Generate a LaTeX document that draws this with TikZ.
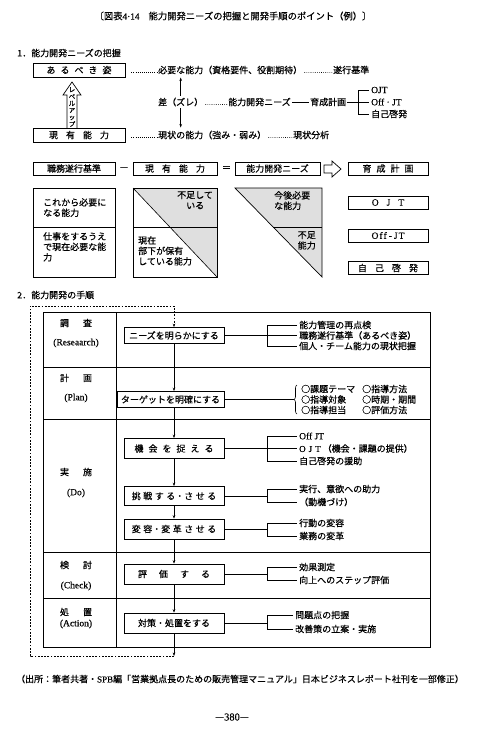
\documentclass[tikz,border=0pt]{standalone}
\usepackage{fontspec}
\setmainfont{Noto Sans CJK JP}[FakeBold=0.35]
\newfontfamily\lat{Liberation Serif}[FakeBold=0.3]
\usetikzlibrary{arrows.meta,decorations.pathreplacing}
\newcommand\gapa{\hspace{5pt}}
\newcommand\gapb{\hspace{8pt}}
\newcommand\gapc{\hspace{12pt}}
\newcommand\gapd{\hspace{2.5pt}}
\begin{document}
\begin{tikzpicture}[x=1pt,y=-1pt,
  txt/.style={font=\fontsize{9}{10.5}\selectfont, inner sep=0pt},
  ltxt/.style={font=\lat\fontsize{9.5}{10.5}\selectfont, inner sep=0pt},
  box/.style={draw, line width=0.7pt, inner sep=0pt, font=\fontsize{9}{10.5}\selectfont},
  ln/.style={line width=0.6pt},
  dotln/.style={line width=0.8pt, dash pattern=on 0.6pt off 1.5pt},
  arr/.style={line width=0.6pt, -{Stealth[length=3.5pt,width=2.6pt]}},
  dashln/.style={line width=0.7pt, dash pattern=on 1.8pt off 1.4pt},
  stip/.style={fill=gray!25},
]
\useasboundingbox (0,0) rectangle (482,732);

% ---------- title
\node[txt, font=\fontsize{9.3}{10.5}\selectfont] (title) at (233,16) {〔図表{\lat 4·14}\hspace{9pt}能力開発ニーズの把握と開発手順のポイント（例）〕};

% ---------- section 1
\node[txt, anchor=west] (s1) at (17,53) {1．能力開発ニーズの把握};
\node[box, minimum width=92pt, minimum height=14pt] (ideal) at (79,70) {あ\gapa る\gapa べ\gapa き\gapa 姿};
\node[box, minimum width=92pt, minimum height=14pt] (cur) at (79,135) {現\gapb 有\gapb 能\gapb 力};

\node[txt, anchor=west] (need) at (158,70) {必要な能力（資格要件、役割期待）};
\node[txt, anchor=west] (kijun) at (333,70) {遂行基準};
\coordinate (d1) at ([xshift=6pt]ideal.east);
\draw[dotln] ([yshift=1pt]d1 |- need.base west) -- ([xshift=-1pt,yshift=1pt]need.base west);
\draw[dotln] ([xshift=2pt,yshift=1pt]need.base east) -- ([xshift=-1pt,yshift=1pt]kijun.base west);

\node[txt, anchor=west] (gap) at (158,102) {差（ズレ）};
\node[txt, anchor=west] (needs) at (228,102) {能力開発ニーズ};
\node[txt, anchor=west] (plan) at (310,102) {育成計画};
\draw[dotln] ([xshift=2pt,yshift=1pt]gap.base east) -- ([xshift=-1pt,yshift=1pt]needs.base west);
\draw[ln] ([xshift=1pt]needs.east) -- ([xshift=-1pt]plan.west);
\coordinate (bk) at (358,0);
\node[ltxt, anchor=west] (m1) at (371,90) {OJT};
\node[ltxt, anchor=west] (m2) at (371,102) {Off · JT};
\node[txt, anchor=west] (m3) at (371,114) {自己啓発};
\draw[ln] ([xshift=1pt]plan.east) -- ([xshift=-2pt]m2.west);
\draw[ln] ([xshift=-2pt]m1.west) -- (m1.west -| bk) -- (m3.west -| bk) -- ([xshift=-2pt]m3.west);

\node[txt, anchor=west] (genjo) at (158,135) {現状の能力（強み・弱み）};
\node[txt, anchor=west] (bunseki) at (293,135) {現状分析};
\coordinate (d2) at ([xshift=6pt]cur.east);
\draw[dotln] ([yshift=1pt]d2 |- genjo.base west) -- ([xshift=-1pt,yshift=1pt]genjo.base west);
\draw[dotln] ([xshift=2pt,yshift=1pt]genjo.base east) -- ([xshift=-1pt,yshift=1pt]bunseki.base west);

\draw[arr, shorten <=2pt, shorten >=3pt] (gap.north) -- (gap.north |- need.south);
\draw[arr, shorten <=2pt, shorten >=3pt] (gap.south) -- (gap.south |- genjo.north);

% level-up hollow arrow
\draw[line width=0.7pt] (67,128) -- (67,95) -- (63,95) -- (72,82) -- (81,95) -- (77,95) -- (77,128);
\node[font=\fontsize{6.5}{6.9}\selectfont, align=center, inner sep=0pt] (lvl) at (72,107) {レ\\ベ\\ル\\ア\\ッ\\プ};

% formula row
\node[box, minimum width=82pt, minimum height=13pt] (f1) at (74,168.5) {職務遂行基準};
\node[txt] (minus) at (124,168.5) {—};
\node[box, minimum width=84pt, minimum height=13pt] (f2) at (175,168.5) {現\gapb 有\gapb 能\gapb 力};
\node[txt] (eq) at (226.5,168.5) {＝};
\node[box, minimum width=85pt, minimum height=13pt] (f3) at (277.5,168.5) {能力開発ニーズ};
\draw[line width=0.7pt] (324,165) -- (332,165) -- (332,161) -- (341,169) -- (332,177) -- (332,173) -- (324,173) -- cycle;
\node[box, minimum width=80pt, minimum height=13pt] (f4) at (388,168.5) {育\gapa 成\gapa 計\gapa 画};

% big box 1
\draw[line width=0.7pt] (33,188) rectangle (115,277);
\draw[line width=0.7pt] (33,227) -- (115,227);
\node[txt, anchor=north west, align=left] (b1a) at (43,198) {これから必要に\\なる能力};
\node[txt, anchor=north west, align=left] (b1b) at (43,232) {仕事をするうえ\\で現在必要な能\\力};

% big box 2
\fill[stip] (133,188) -- (217,188) -- (217,277) -- cycle;
\draw[line width=0.7pt] (133,188) rectangle (217,277);
\draw[line width=0.6pt] (133,188) -- (217,277);
\draw[line width=0.6pt] (133,227) -- (217,227);
\node[txt, anchor=north west, align=left] (b2a) at (177,191) {不足して\\\hspace{9pt}いる};
\node[txt, anchor=north west, align=left] (b2b) at (138,236) {現在\\部下が保有\\している能力};

% triangle 3
\fill[stip] (235,188) -- (322,188) -- (322,277) -- cycle;
\draw[line width=0.7pt] (235,188) -- (322,188) -- (322,277) -- cycle;
\draw[line width=0.6pt] (273.1,227) -- (322,227);
\node[txt, anchor=north west, align=left] (b3a) at (274,191) {今後必要\\な能力};
\node[txt, anchor=north east, align=right] (b3b) at (316,231) {不足\\能力};

% right boxes
\node[box, minimum width=80pt, minimum height=13pt, font=\lat\fontsize{9.5}{10.5}\selectfont] (o1) at (388,202.5) {O\gapb J\gapb T};
\node[box, minimum width=80pt, minimum height=13pt, font=\lat\fontsize{9.5}{10.5}\selectfont] (o2) at (388,235.5) {O\hspace{1pt}f\hspace{1pt}f\hspace{2pt}-\hspace{2pt}J\hspace{1pt}T};
\node[box, minimum width=80pt, minimum height=13pt] (o3) at (388,268) {自\gapb 己\gapb 啓\gapb 発};

% ---------- section 2
\node[txt, anchor=west] (s2) at (17,295) {2．能力開発の手順};
\draw[line width=0.8pt] (43,312) rectangle (430,647);
\draw[line width=0.7pt] (116,312) -- (116,647);
\foreach \yy in {367,419,552,598} \draw[line width=0.7pt] (43,\yy) -- (430,\yy);

\node[txt] (l1a) at (76,323) {調\hspace{14pt}査};
\node[ltxt] (l1b) at (76,343) {(Reseaarch)};
\node[txt] (l2a) at (76,378) {計\hspace{14pt}画};
\node[ltxt] (l2b) at (76,398) {(Plan)};
\node[txt] (l3a) at (76,472) {実\hspace{14pt}施};
\node[ltxt] (l3b) at (76,493) {(Do)};
\node[txt] (l4a) at (76,565) {検\hspace{14pt}討};
\node[ltxt] (l4b) at (76,586) {(Check)};
\node[txt] (l5a) at (76,612) {処\hspace{14pt}置};
\node[ltxt] (l5b) at (76,624) {(Action)};

\node[box, minimum width=100pt, minimum height=16pt] (p1) at (174,335.5) {ニーズを明らかにする};
\node[box, minimum width=107pt, minimum height=16pt] (p2) at (170.5,399.5) {ターゲットを明確にする};
\node[box, minimum width=100pt, minimum height=20pt] (p3) at (174,448.5) {機\gapa 会\gapa を\gapa 捉\gapa え\gapa る};
\node[box, minimum width=100pt, minimum height=19pt] (p4) at (174,496) {挑\gapd 戦\gapd す\gapd る・さ\gapd せ\gapd る};
\node[box, minimum width=100pt, minimum height=20pt] (p5) at (174,529) {変\gapd 容・変\gapd 革\gapd さ\gapd せ\gapd る};
\node[box, minimum width=100pt, minimum height=20pt] (p6) at (174,574) {評\gapc 価\gapc す\gapc る};
\node[box, minimum width=100pt, minimum height=20pt] (p7) at (174,623) {対策・処置をする};

\draw[arr] (p1.south) -- (p1.south |- p2.north);
\draw[arr] (p1.south |- p2.south) -- (p3.north);
\draw[arr] (p3.south) -- (p4.north);
\draw[arr] (p4.south) -- (p5.north);
\draw[arr] (p5.south) -- (p6.north);
\draw[arr] (p6.south) -- (p7.north);
\coordinate (lb) at (174,656);
\draw[arr] (p7.south) -- (lb);
\draw[dashln, -{Stealth[length=3.5pt,width=2.6pt]}] (lb) -- (30,656) -- (30,306) -- (174,306) -- (p1.north);

\coordinate (k) at (267,0);
% row 1
\node[txt, anchor=west] (i11) at (299,325) {能力管理の再点検};
\node[txt, anchor=west] (i12) at (299,335.5) {職務遂行基準（あるべき姿）};
\node[txt, anchor=west] (i13) at (299,346) {個人・チーム能力の現状把握};
\draw[ln] (p1.east) -- ([xshift=-2pt]i12.west);
\draw[ln] ([xshift=-2pt]i11.west) -- (i11.west -| k) -- (i13.west -| k) -- ([xshift=-2pt]i13.west);

% row 2
\coordinate (br1) at (297,385);
\coordinate (br2) at (297,414);
\coordinate (bt) at (294,0);
\draw[ln, decorate, decoration={brace, amplitude=3pt}] (br2) -- (br1);
\draw[ln] (p2.east) -- (p2.east -| bt);
\node[txt, anchor=west] (j1) at (301,389) {○課題テーマ};
\node[txt, anchor=west] (j2) at (301,399.5) {○指導対象};
\node[txt, anchor=west] (j3) at (301,410) {○指導担当};
\node[txt, anchor=west] (j4) at (362,389) {○指導方法};
\node[txt, anchor=west] (j5) at (362,399.5) {○時期・期間};
\node[txt, anchor=west] (j6) at (362,410) {○評価方法};

% row 3
\node[ltxt, anchor=west] (q1) at (299,436) {Off JT};
\node[txt, anchor=west] (q2) at (299,448.5) {{\lat O\hspace{3pt}J\hspace{3pt}T}\hspace{2pt}（機会・課題の提供）};
\node[txt, anchor=west] (q3) at (299,461) {自己啓発の援助};
\draw[ln] (p3.east) -- ([xshift=-2pt]q2.west);
\draw[ln] ([xshift=-2pt]q1.west) -- (q1.west -| k) -- (q3.west -| k) -- ([xshift=-2pt]q3.west);

\node[txt, anchor=west] (r1) at (299,489) {実行、意欲への助力};
\node[txt, anchor=west] (r2) at (299,502) {（動機づけ）};
\draw[ln] (p4.east) -- (p4.east -| k);
\draw[ln] ([xshift=-2pt]r1.west) -- (r1.west -| k) -- (r2.west -| k) -- ([xshift=-2pt]r2.west);

\node[txt, anchor=west] (s1a) at (299,523) {行動の変容};
\node[txt, anchor=west] (s1b) at (299,536) {業務の変革};
\draw[ln] (p5.east) -- (p5.east -| k);
\draw[ln] ([xshift=-2pt]s1a.west) -- (s1a.west -| k) -- (s1b.west -| k) -- ([xshift=-2pt]s1b.west);

% check row
\node[txt, anchor=west] (c1) at (299,567) {効果測定};
\node[txt, anchor=west] (c2) at (299,580) {向上へのステップ評価};
\draw[ln] (p6.east) -- (p6.east -| k);
\draw[ln] ([xshift=-2pt]c1.west) -- (c1.west -| k) -- (c2.west -| k) -- ([xshift=-2pt]c2.west);

% action row
\node[txt, anchor=west] (a1) at (295,615) {問題点の把握};
\node[txt, anchor=west] (a2) at (295,629) {改善策の立案・実施};
\draw[ln] (p7.east) -- (p7.east -| k);
\draw[ln] ([xshift=-2pt]a1.west) -- (a1.west -| k) -- (a2.west -| k) -- ([xshift=-2pt]a2.west);

% ---------- footer
\node[txt] (src) at (240,679) {（出所：筆者共著・{\lat SPB}編「営業拠点長のための販売管理マニュアル」日本ビジネスレポート社刊を一部修正）};
\node[txt, font=\fontsize{10}{11}\selectfont] (page) at (232,717) {—{\lat\fontsize{10.5}{11}\selectfont 380}—};
\end{tikzpicture}
\end{document}
